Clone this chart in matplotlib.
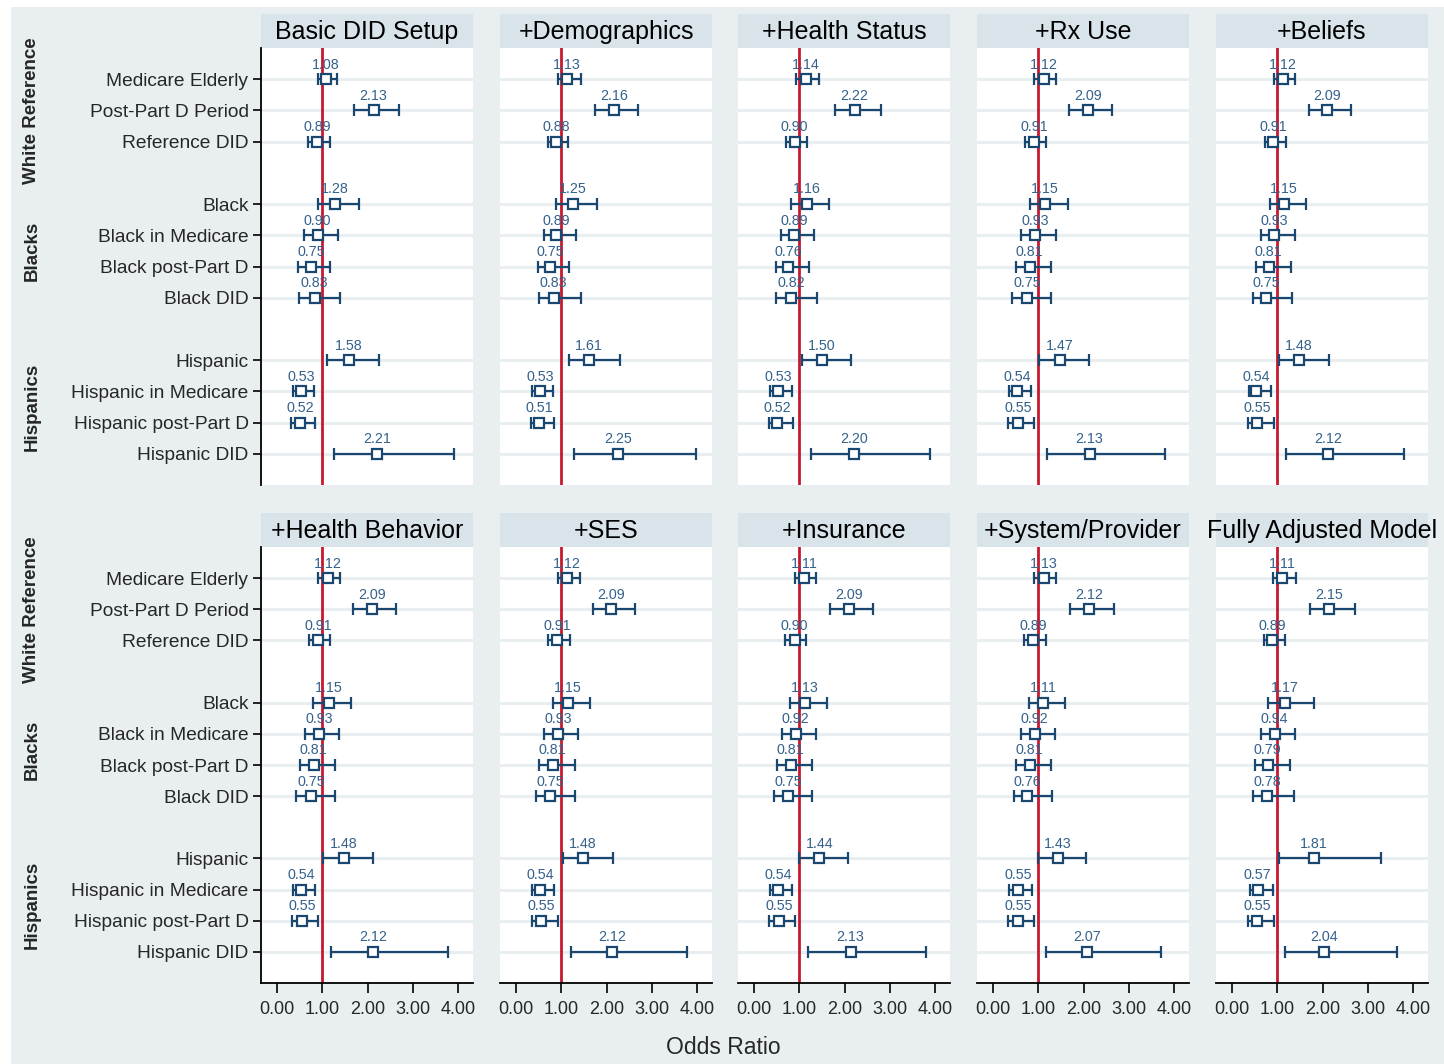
import matplotlib
matplotlib.use("Agg")
import matplotlib.pyplot as plt
from matplotlib.patches import Rectangle
from matplotlib import transforms

plt.rcParams["font.family"] = ["Liberation Sans", "DejaVu Sans"]

# ---- data -------------------------------------------------------------
models = ["Basic DID Setup", "+Demographics", "+Health Status", "+Rx Use", "+Beliefs",
          "+Health Behavior", "+SES", "+Insurance", "+System/Provider", "Fully Adjusted Model"]

row_labels = ["Medicare Elderly", "Post-Part D Period", "Reference DID",
              "Black", "Black in Medicare", "Black post-Part D", "Black DID",
              "Hispanic", "Hispanic in Medicare", "Hispanic post-Part D", "Hispanic DID"]

# vertical slot of each row (blank slots separate the groups)
row_slots = [0, 1, 2, 4, 5, 6, 7, 9, 10, 11, 12]

groups = ["White Reference", "Blacks", "Hispanics"]
group_centers = [1, 5.5, 10.5]

odds_ratio = [
    [1.08, 2.13, 0.89, 1.28, 0.90, 0.75, 0.83, 1.58, 0.53, 0.52, 2.21],
    [1.13, 2.16, 0.88, 1.25, 0.89, 0.75, 0.83, 1.61, 0.53, 0.51, 2.25],
    [1.14, 2.22, 0.90, 1.16, 0.89, 0.76, 0.82, 1.50, 0.53, 0.52, 2.20],
    [1.12, 2.09, 0.91, 1.15, 0.93, 0.81, 0.75, 1.47, 0.54, 0.55, 2.13],
    [1.12, 2.09, 0.91, 1.15, 0.93, 0.81, 0.75, 1.48, 0.54, 0.55, 2.12],
    [1.12, 2.09, 0.91, 1.15, 0.93, 0.81, 0.75, 1.48, 0.54, 0.55, 2.12],
    [1.12, 2.09, 0.91, 1.15, 0.93, 0.81, 0.75, 1.48, 0.54, 0.55, 2.12],
    [1.11, 2.09, 0.90, 1.13, 0.92, 0.81, 0.75, 1.44, 0.54, 0.55, 2.13],
    [1.13, 2.12, 0.89, 1.11, 0.92, 0.81, 0.76, 1.43, 0.55, 0.55, 2.07],
    [1.11, 2.15, 0.89, 1.17, 0.94, 0.79, 0.78, 1.81, 0.57, 0.55, 2.04],
]

ci_lower = [
    [0.90, 1.70, 0.69, 0.91, 0.60, 0.47, 0.49, 1.11, 0.35, 0.32, 1.26],
    [0.92, 1.74, 0.70, 0.89, 0.61, 0.48, 0.51, 1.16, 0.35, 0.33, 1.29],
    [0.93, 1.79, 0.70, 0.82, 0.60, 0.49, 0.49, 1.07, 0.36, 0.34, 1.25],
    [0.90, 1.68, 0.70, 0.81, 0.62, 0.52, 0.43, 1.02, 0.35, 0.33, 1.20],
    [0.93, 1.69, 0.73, 0.83, 0.64, 0.53, 0.46, 1.04, 0.38, 0.35, 1.20],
    [0.90, 1.67, 0.70, 0.80, 0.61, 0.52, 0.43, 1.02, 0.35, 0.33, 1.19],
    [0.92, 1.69, 0.71, 0.82, 0.63, 0.51, 0.45, 1.04, 0.36, 0.35, 1.21],
    [0.90, 1.67, 0.69, 0.80, 0.62, 0.51, 0.44, 1.00, 0.35, 0.33, 1.20],
    [0.91, 1.69, 0.69, 0.79, 0.62, 0.52, 0.46, 0.99, 0.35, 0.33, 1.16],
    [0.91, 1.73, 0.71, 0.79, 0.65, 0.51, 0.46, 1.03, 0.40, 0.36, 1.17],
]

ci_upper = [
    [1.32, 2.68, 1.16, 1.81, 1.34, 1.17, 1.39, 2.25, 0.81, 0.85, 3.91],
    [1.43, 2.69, 1.15, 1.78, 1.32, 1.17, 1.43, 2.30, 0.81, 0.84, 3.97],
    [1.44, 2.79, 1.16, 1.66, 1.33, 1.22, 1.40, 2.14, 0.83, 0.86, 3.89],
    [1.40, 2.62, 1.17, 1.65, 1.38, 1.29, 1.29, 2.11, 0.85, 0.91, 3.80],
    [1.40, 2.63, 1.20, 1.64, 1.40, 1.30, 1.33, 2.13, 0.86, 0.93, 3.80],
    [1.38, 2.62, 1.17, 1.63, 1.37, 1.29, 1.29, 2.11, 0.85, 0.91, 3.76],
    [1.41, 2.63, 1.19, 1.64, 1.37, 1.30, 1.30, 2.14, 0.83, 0.92, 3.78],
    [1.37, 2.63, 1.15, 1.61, 1.37, 1.29, 1.29, 2.07, 0.85, 0.91, 3.80],
    [1.40, 2.66, 1.16, 1.58, 1.37, 1.29, 1.31, 2.06, 0.86, 0.91, 3.70],
    [1.41, 2.71, 1.18, 1.81, 1.40, 1.27, 1.36, 3.28, 0.91, 0.93, 3.63],
]

x_ticks = [0, 1, 2, 3, 4]
x_tick_labels = ["0.00", "1.00", "2.00", "3.00", "4.00"]

# ---- style ------------------------------------------------------------
W, H = 1444, 1064
BG = "#e9eff1"
HEADER = "#d9e3ea"
GRID = "#e9eff1"
NAVY = "#1a476f"
LABEL = "#34618c"
RED = "#c8182f"
TEXT = "#262626"

fig = plt.figure(figsize=(W / 100, H / 100), dpi=100)
fig.patch.set_facecolor("white")
fig.patches.append(Rectangle((11 / W, 0), (W - 11) / W, (H - 7) / H,
                             transform=fig.transFigure, facecolor=BG,
                             edgecolor="none", zorder=-10))

col_left = [261, 500, 738, 977, 1216]
panel_w = 212
row_plot_top = [48, 547]
row_plot_bottom = [485, 983]
row_header_top = [14, 513]


def px_axes(x0, top, w, h):
    return fig.add_axes([x0 / W, 1 - (top + h) / H, w / W, h / H])


for m, title in enumerate(models):
    r, c = divmod(m, 5)
    x0 = col_left[c]
    top = row_plot_top[r]
    h = row_plot_bottom[r] - top

    # header strip with the model name
    htop = row_header_top[r]
    hh = top - htop
    fig.patches.append(Rectangle((x0 / W, 1 - top / H), panel_w / W, hh / H,
                                 transform=fig.transFigure, facecolor=HEADER,
                                 edgecolor="none", zorder=-5))
    fig.text((x0 + panel_w / 2) / W, 1 - (htop + hh / 2 + 1) / H, title,
             ha="center", va="center", fontsize=18, color="black", zorder=3)

    ax = px_axes(x0, top, panel_w, h)
    ax.set_zorder(1)
    ax.set_facecolor("white")
    ax.set_xlim(-0.35, 4.32)
    ax.set_ylim(13, -1)

    for y in row_slots:
        ax.axhline(y, color=GRID, lw=2.2, zorder=1)
    ax.axvline(1, color=RED, lw=2.0, zorder=2)

    ors = odds_ratio[m]
    lo = ci_lower[m]
    hi = ci_upper[m]
    xerr = [[o - l for o, l in zip(ors, lo)], [u - o for o, u in zip(ors, hi)]]
    ax.errorbar(ors, row_slots, xerr=xerr, fmt="s", color=NAVY, ecolor=NAVY,
                elinewidth=1.6, capsize=4.3, capthick=1.6,
                markersize=7.0, markerfacecolor="white", markeredgecolor=NAVY,
                markeredgewidth=1.6, zorder=4)
    for o, y in zip(ors, row_slots):
        ax.annotate(f"{o:.2f}", (o, y), xytext=(0, 10.5), textcoords="offset points",
                    ha="center", va="center", fontsize=10.3, color=LABEL, zorder=5)

    for s in ["top", "right"]:
        ax.spines[s].set_visible(False)
    ax.spines["left"].set_visible(c == 0)
    ax.spines["left"].set_color("black")
    ax.spines["left"].set_linewidth(1.3)
    ax.spines["bottom"].set_visible(r == 1)
    ax.spines["bottom"].set_color("black")
    ax.spines["bottom"].set_linewidth(1.3)

    ax.set_yticks(row_slots)
    if c == 0:
        ax.set_yticklabels(row_labels, fontsize=13.8, color=TEXT)
        ax.tick_params(axis="y", length=6, width=1.2, color="black", pad=3)
        blend = transforms.blended_transform_factory(fig.transFigure, ax.transData)
        for g, yc in zip(groups, group_centers):
            ax.text(32 / W, yc, g, transform=blend, rotation=90, ha="center",
                    va="center", fontsize=13.5, fontweight="bold", color=TEXT)
    else:
        ax.set_yticklabels([])
        ax.tick_params(axis="y", length=0)

    ax.set_xticks(x_ticks)
    if r == 1:
        ax.set_xticklabels(x_tick_labels, fontsize=13, color=TEXT)
        ax.tick_params(axis="x", length=7, width=1.2, color="black", pad=6)
    else:
        ax.set_xticklabels([])
        ax.tick_params(axis="x", length=0)

fig.text(723 / W, 1 - 1047 / H, "Odds Ratio", ha="center", va="center",
         fontsize=16.5, color=TEXT)

fig.savefig("out.png", dpi=100, facecolor=fig.get_facecolor())
